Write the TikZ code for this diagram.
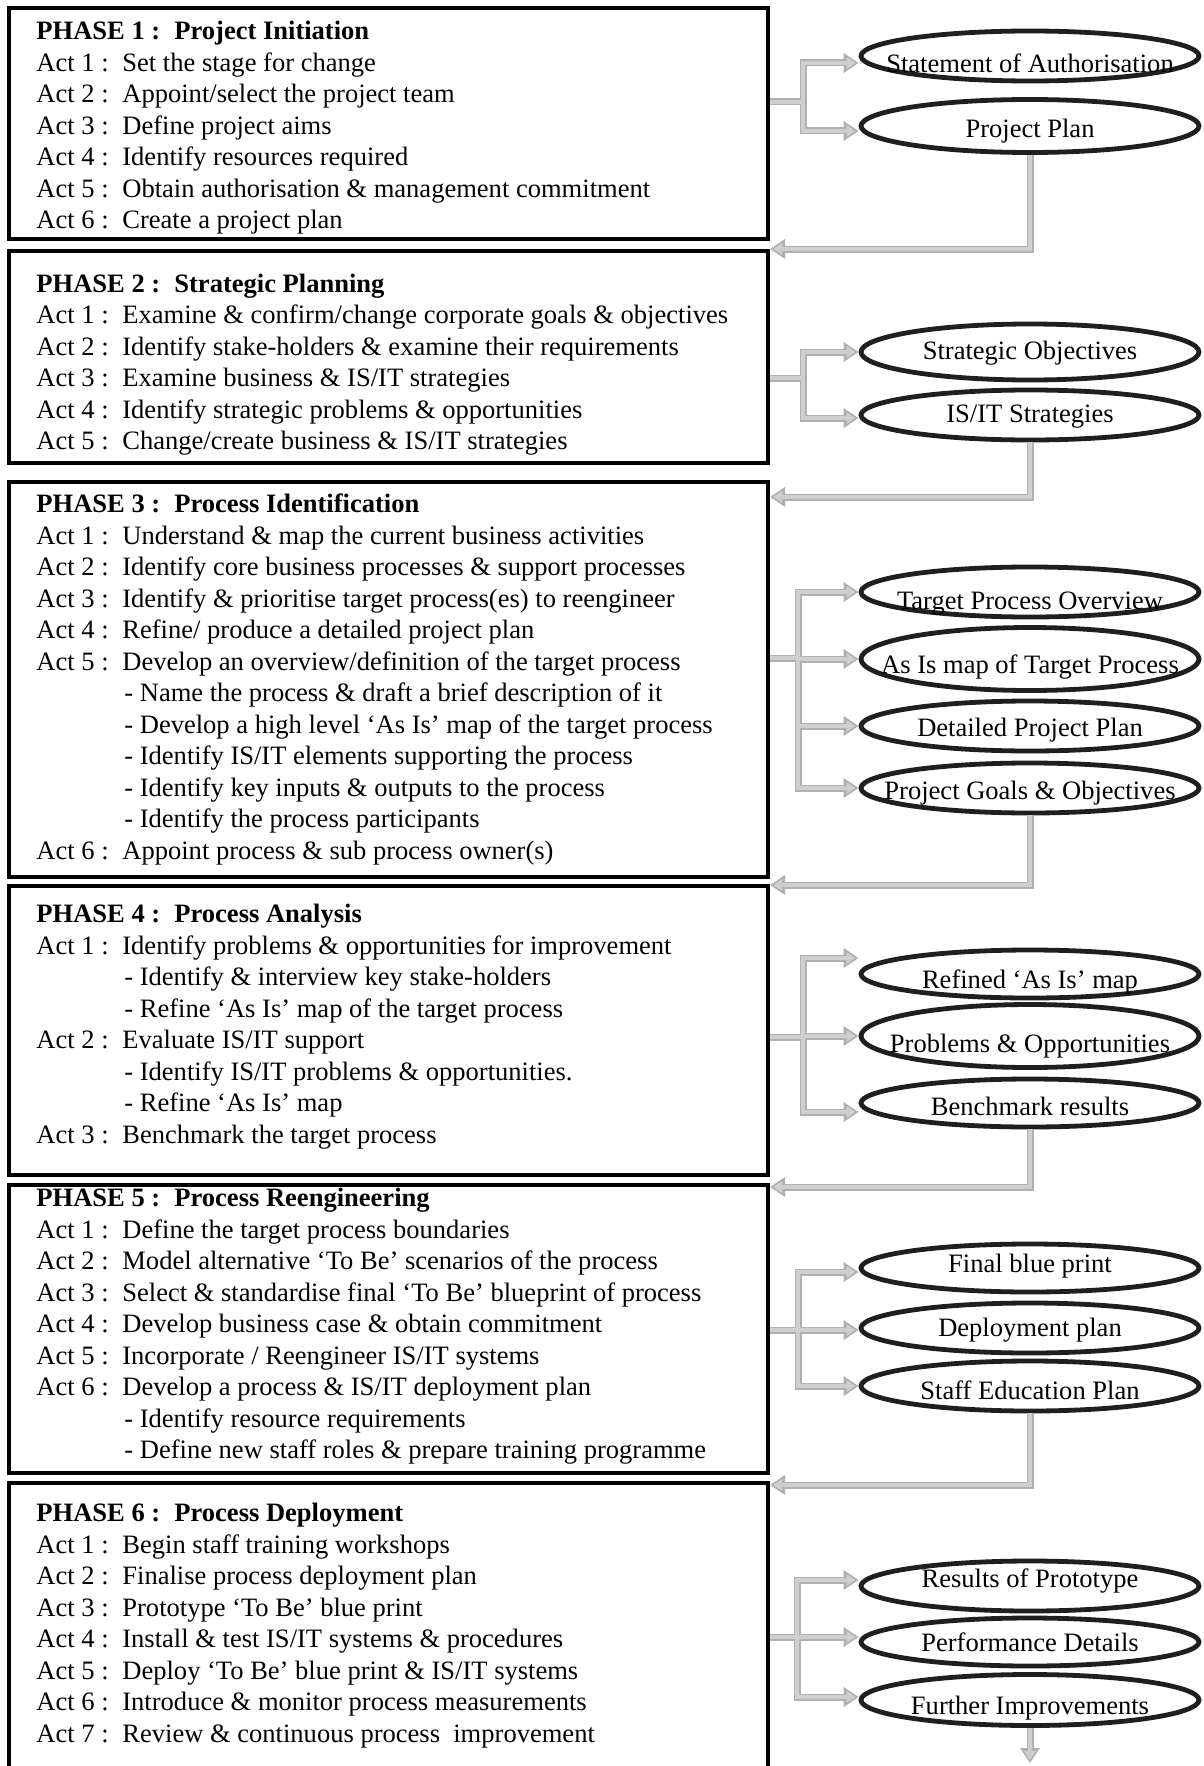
\documentclass[tikz,border=0pt]{standalone}
\usepackage{fontspec}
\setmainfont{Liberation Serif}
\usetikzlibrary{shapes.geometric,arrows.meta,fit}

% one line of an activity list
\newcommand\actl[2]{\makebox[43pt][l]{Act #1 :}#2\par}
\newcommand\subl[1]{\hspace*{44pt}- #1\par}
\newcommand\phasehead[2]{\textbf{\makebox[69pt][l]{PHASE #1 :}#2}\par}
\newcommand\phaselines[1]{%
  \begin{minipage}[t]{380pt}\fontsize{13.27pt}{15.75pt}\selectfont
  \setlength\parindent{0pt}#1\end{minipage}}

% every connector of the flow, drawn once per pass
\newcommand\flownet{%
  % phase 1
  \draw (p1.east |- j1) -- (j1);
  \draw[flowtip] (j1) |- ([yshift=-3.5pt]e11.west);
  \draw[flowtip] (j1) |- ([yshift=-2.5pt]e12.west);
  \draw[flowtip] (e12.south) |- (p2.east |- r1);
  % phase 2
  \draw (p2.east |- j2) -- (j2);
  \draw[flowtip] (j2) |- (e21.west);
  \draw[flowtip] (j2) |- ([yshift=-1.5pt]e22.west);
  \draw[flowtip] (e22.south) |- (p3.east |- r2);
  % phase 3
  \draw (p3.east |- j3) -- (j3);
  \draw[flowtip] (j3) |- (e31.west);
  \draw[flowtip] (j3) |- (e32.west);
  \draw[flowtip] (j3) |- (e33.west);
  \draw[flowtip] (j3) |- (e34.west);
  \draw[flowtip] (e34.south) |- (p4.east |- r3);
  % phase 4
  \draw (p4.east |- j4) -- (j4);
  \draw[flowtip] (j4) |- ([yshift=8pt]e41.west);
  \draw[flowtip] (j4) |- (e42.west);
  \draw[flowtip] (j4) |- ([yshift=-4.5pt]e43.west);
  \draw[flowtip] (e43.south) |- (p5.east |- r4);
  % phase 5
  \draw (p5.east |- j5) -- (j5);
  \draw[flowtip] (j5) |- ([yshift=-2pt]e51.west);
  \draw[flowtip] (j5) |- ([yshift=-1pt]e52.west);
  \draw[flowtip] (j5) |- (e53.west);
  \draw[flowtip] (e53.south) |- (p6.east |- r5);
  % phase 6
  \draw (p6.east |- j6) -- (j6);
  \draw[flowtip] (j6) |- ([yshift=3pt]e61.west);
  \draw[flowtip] (j6) |- ([yshift=2.5pt]e62.west);
  \draw[flowtip] (j6) |- ([yshift=1.5pt]e63.west);
  \draw[flowtip] (e63.south) -- (fin);
}

\tikzset{
  phasebox/.style={draw=black, line width=2.1pt, inner sep=0pt},
  phasetext/.style={anchor=base west, inner sep=0pt},
  oval/.style={ellipse, draw=black!88, line width=2.4pt, minimum width=169pt, inner sep=0pt},
  ovaltext/.style={anchor=base, inner sep=0pt, font=\fontsize{13.27pt}{15.75pt}\selectfont},
  flowouter/.style={draw=gray!62, line width=3.5pt,
    flowtip/.style={-{Triangle[width=9.5pt,length=7.5pt]}}},
  flowinner/.style={draw=gray!38, line width=1.8pt,
    flowtip/.style={-{Triangle[width=5.6pt,length=4.4pt]}, shorten >=1.6pt}},
}

\begin{document}
\begin{tikzpicture}[x=0.5pt, y=-0.5pt]
\useasboundingbox (0,0) rectangle (1204,1766);
\clip (0,0) rectangle (1204,1766);

% phase boxes
\node[phasebox, fit={(9,8) (768,239)}] (p1) {};
\node[phasebox, fit={(9,251) (768,463)}] (p2) {};
\node[phasebox, fit={(9,482) (768,877)}] (p3) {};
\node[phasebox, fit={(9,886) (768,1175)}] (p4) {};
\node[phasebox, fit={(9,1185) (768,1473)}] (p5) {};
\node[phasebox, fit={(9,1483) (768,1820)}] (p6) {};

% activity lists
\node[phasetext] (p1t) at (36,39.8) {\phaselines{%
  \phasehead{1}{Project Initiation}
  \actl{1}{Set the stage for change}
  \actl{2}{Appoint/select the project team}
  \actl{3}{Define project aims}
  \actl{4}{Identify resources required}
  \actl{5}{Obtain authorisation \& management commitment}
  \actl{6}{Create a project plan}}};

\node[phasetext] (p2t) at (36,292) {\phaselines{%
  \phasehead{2}{Strategic Planning}
  \actl{1}{Examine \& confirm/change corporate goals \& objectives}
  \actl{2}{Identify stake-holders \& examine their requirements}
  \actl{3}{Examine business \& IS/IT strategies}
  \actl{4}{Identify strategic problems \& opportunities}
  \actl{5}{Change/create business \& IS/IT strategies}}};

\node[phasetext] (p3t) at (36,512.8) {\phaselines{%
  \phasehead{3}{Process Identification}
  \actl{1}{Understand \& map the current business activities}
  \actl{2}{Identify core business processes \& support processes}
  \actl{3}{Identify \& prioritise target process(es) to reengineer}
  \actl{4}{Refine/ produce a detailed project plan}
  \actl{5}{Develop an overview/definition of the target process}
  \subl{Name the process \& draft a brief description of it}
  \subl{Develop a high level ‘As Is’ map of the target process}
  \subl{Identify IS/IT elements supporting the process}
  \subl{Identify key inputs \& outputs to the process}
  \subl{Identify the process participants}
  \actl{6}{Appoint process \& sub process owner(s)}}};

\node[phasetext] (p4t) at (36,922.7) {\phaselines{%
  \phasehead{4}{Process Analysis}
  \actl{1}{Identify problems \& opportunities for improvement}
  \subl{Identify \& interview key stake-holders}
  \subl{Refine ‘As Is’ map of the target process}
  \actl{2}{Evaluate IS/IT support}
  \subl{Identify IS/IT problems \& opportunities.}
  \subl{Refine ‘As Is’ map}
  \actl{3}{Benchmark the target process}}};

\node[phasetext] (p5t) at (36,1206.6) {\phaselines{%
  \phasehead{5}{Process Reengineering}
  \actl{1}{Define the target process boundaries}
  \actl{2}{Model alternative ‘To Be’ scenarios of the process}
  \actl{3}{Select \& standardise final ‘To Be’ blueprint of process}
  \actl{4}{Develop business case \& obtain commitment}
  \actl{5}{Incorporate / Reengineer IS/IT systems}
  \actl{6}{Develop a process \& IS/IT deployment plan}
  \subl{Identify resource requirements}
  \subl{Define new staff roles \& prepare training programme}}};

\node[phasetext] (p6t) at (36,1521.9) {\phaselines{%
  \phasehead{6}{Process Deployment}
  \actl{1}{Begin staff training workshops}
  \actl{2}{Finalise process deployment plan}
  \actl{3}{Prototype ‘To Be’ blue print}
  \actl{4}{Install \& test IS/IT systems \& procedures}
  \actl{5}{Deploy ‘To Be’ blue print \& IS/IT systems}
  \actl{6}{Introduce \& monitor process measurements}
  \actl{7}{Review \& continuous process\ \ improvement}}};

% deliverables
\node[oval, minimum height=25pt] (e11) at (1030,56) {};
\node[oval, minimum height=26.5pt] (e12) at (1030,126) {};
\node[oval, minimum height=28pt] (e21) at (1030,352) {};
\node[oval, minimum height=25pt] (e22) at (1030,415) {};
\node[oval, minimum height=25pt] (e31) at (1030,592) {};
\node[oval, minimum height=31.5pt] (e32) at (1030,659) {};
\node[oval, minimum height=25pt] (e33) at (1030,726) {};
\node[oval, minimum height=25pt] (e34) at (1030,788) {};
\node[oval, minimum height=24pt] (e41) at (1030,974) {};
\node[oval, minimum height=31.5pt] (e42) at (1030,1036) {};
\node[oval, minimum height=24pt] (e43) at (1030,1103) {};
\node[oval, minimum height=24pt] (e51) at (1030,1268) {};
\node[oval, minimum height=25pt] (e52) at (1030,1328) {};
\node[oval, minimum height=25pt] (e53) at (1030,1386) {};
\node[oval, minimum height=25pt] (e61) at (1030,1586) {};
\node[oval, minimum height=24pt] (e62) at (1030,1642) {};
\node[oval, minimum height=25.5pt] (e63) at (1030,1700) {};

\node[ovaltext] (e11t) at (1030,72.6) {Statement of Authorisation};
\node[ovaltext] (e12t) at (1030,137.4) {Project Plan};
\node[ovaltext] (e21t) at (1030,359) {Strategic Objectives};
\node[ovaltext] (e22t) at (1030,422) {IS/IT Strategies};
\node[ovaltext] (e31t) at (1030,609) {Target Process Overview};
\node[ovaltext] (e32t) at (1030,673) {As Is map of Target Process};
\node[ovaltext] (e33t) at (1030,736) {Detailed Project Plan};
\node[ovaltext] (e34t) at (1030,799) {Project Goals \& Objectives};
\node[ovaltext] (e41t) at (1030,988) {Refined ‘As Is’ map};
\node[ovaltext] (e42t) at (1030,1052) {Problems \& Opportunities};
\node[ovaltext] (e43t) at (1030,1115) {Benchmark results};
\node[ovaltext] (e51t) at (1030,1272) {Final blue print};
\node[ovaltext] (e52t) at (1030,1336) {Deployment plan};
\node[ovaltext] (e53t) at (1030,1399) {Staff Education Plan};
\node[ovaltext] (e61t) at (1030,1587) {Results of Prototype};
\node[ovaltext] (e62t) at (1030,1651) {Performance Details};
\node[ovaltext] (e63t) at (1030,1714) {Further Improvements};

% junctions of the connector network
\coordinate (j1) at (803,102);
\coordinate (j2) at (803,378);
\coordinate (j3) at (798,658);
\coordinate (j4) at (803,1037);
\coordinate (j5) at (798,1330);
\coordinate (j6) at (797,1637);
\coordinate (r1) at (1030,249);
\coordinate (r2) at (1030,497);
\coordinate (r3) at (1030,885);
\coordinate (r4) at (1030,1187);
\coordinate (r5) at (1030,1485);
\coordinate (fin) at (1030,1763);

% hollow grey connectors: dark outline first, light core on top
\begin{scope}[flowouter] \flownet \end{scope}
\begin{scope}[flowinner] \flownet \end{scope}
\end{tikzpicture}
\end{document}
